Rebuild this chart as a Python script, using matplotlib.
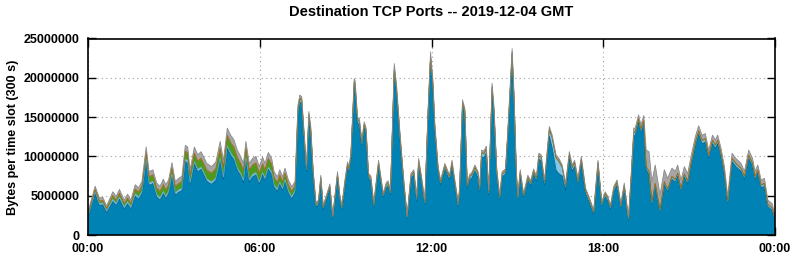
import numpy as np
import matplotlib
matplotlib.use('Agg')
import matplotlib.pyplot as plt

plt.rcParams['font.family'] = ['Liberation Sans', 'DejaVu Sans']
plt.rcParams['font.weight'] = 'bold'

# time slots (GMT) where the curve was read
times = [
    "00:00", "00:15", "00:24", "00:31", "00:39", "00:52", "00:59", "01:06",
    "01:16", "01:23", "01:30", "01:39", "01:46", "01:53", "02:02", "02:08",
    "02:16", "02:24", "02:31", "02:38", "02:43", "02:49", "02:56", "03:03",
    "03:10", "03:17", "03:24", "03:29", "03:34", "03:43", "03:50", "03:57",
    "04:02", "04:09", "04:19", "04:28", "04:37", "04:44", "04:52", "04:59",
    "05:06", "05:13", "05:20", "05:26", "05:31", "05:38", "05:45", "05:52",
    "05:59", "06:06", "06:11", "06:18", "06:25", "06:30", "06:37", "06:42",
    "06:48", "06:53", "07:00", "07:07", "07:14", "07:20", "07:24", "07:28",
    "07:38", "07:43", "07:47", "07:52", "07:58", "08:03", "08:08", "08:13",
    "08:22", "08:27", "08:33", "08:43", "08:48", "08:52", "08:59", "09:04",
    "09:07", "09:11", "09:18", "09:20", "09:25", "09:29", "09:34", "09:39",
    "09:43", "09:48", "09:53", "09:59", "10:09", "10:14", "10:19", "10:25",
    "10:29", "10:34", "10:42", "10:47", "10:54", "11:02", "11:09", "11:17",
    "11:23", "11:29", "11:33", "11:39", "11:46", "11:53", "11:58", "12:03",
    "12:07", "12:14", "12:19", "12:28", "12:35", "12:38", "12:43", "12:49",
    "12:56", "12:59", "13:05", "13:10", "13:15", "13:20", "13:25", "13:31",
    "13:38", "13:41", "13:45", "13:50", "13:55", "14:00", "14:07", "14:11",
    "14:17", "14:23", "14:28", "14:35", "14:40", "14:49", "14:53", "14:58",
    "15:01", "15:06", "15:13", "15:22", "15:28", "15:34", "15:40", "15:45",
    "15:50", "15:57", "16:07", "16:13", "16:21", "16:27", "16:34", "16:41",
    "16:49", "16:55", "17:00", "17:07", "17:14", "17:23", "17:30", "17:40",
    "17:49", "17:57", "18:04", "18:10", "18:15", "18:22", "18:29", "18:37",
    "18:44", "18:53", "18:59", "19:04", "19:07", "19:14", "19:19", "19:25",
    "19:30", "19:36", "19:42", "19:49", "19:59", "20:08", "20:15", "20:24",
    "20:31", "20:36", "20:43", "20:50", "20:57", "21:04", "21:13", "21:20",
    "21:27", "21:34", "21:41", "21:49", "21:55", "22:00", "22:07", "22:14",
    "22:21", "22:30", "22:38", "22:49", "22:56", "23:05", "23:13", "23:18",
    "23:24", "23:31", "23:38", "23:45", "23:54", "24:00",
]

# top of the stack, millions of bytes per slot
total = [
    3.0, 6.2, 4.7, 4.8, 3.7, 5.5, 4.9, 5.8,
    4.45, 5.2, 4.45, 6.4, 6.0, 6.8, 11.2, 8.05,
    8.3, 6.6, 6.2, 7.1, 6.4, 7.0, 9.2, 6.8,
    7.2, 7.5, 11.4, 11.2, 8.3, 11.2, 10.2, 10.6,
    10.0, 9.1, 8.7, 9.3, 11.9, 9.5, 13.6, 12.7,
    12.1, 10.8, 10.0, 9.1, 11.9, 9.1, 9.75, 10.0,
    8.7, 9.9, 9.1, 10.5, 9.75, 8.05, 7.4, 8.3,
    7.4, 8.5, 7.0, 6.15, 6.8, 16.5, 17.8, 17.6,
    8.7, 15.7, 13.8, 8.3, 4.1, 4.45, 7.6, 3.8,
    5.5, 6.5, 2.5, 8.05, 5.1, 3.8, 7.2, 9.3,
    8.7, 10.4, 19.9, 19.6, 15.0, 14.8, 12.1, 14.4,
    13.6, 7.85, 7.5, 4.1, 9.5, 7.4, 5.3, 6.65,
    6.9, 5.7, 21.8, 18.9, 13.0, 7.0, 2.5, 7.85,
    8.3, 4.9, 9.75, 7.5, 4.45, 16.3, 23.3, 19.7,
    14.2, 8.7, 7.0, 9.1, 8.05, 7.7, 9.5, 7.0,
    4.2, 6.15, 17.2, 16.1, 6.6, 7.7, 8.0, 8.9,
    8.0, 6.15, 10.8, 10.7, 11.3, 5.7, 19.3, 16.3,
    8.3, 5.1, 8.05, 8.4, 13.4, 23.7, 18.0, 8.05,
    5.1, 8.3, 5.3, 7.6, 6.9, 8.4, 7.5, 10.4,
    10.2, 7.0, 13.8, 12.7, 10.2, 9.75, 8.9, 6.6,
    10.6, 8.9, 9.5, 7.2, 10.0, 5.95, 4.9, 3.2,
    9.5, 4.25, 5.5, 4.9, 3.8, 6.15, 7.0, 4.0,
    6.6, 2.3, 8.3, 13.6, 13.6, 15.3, 14.0, 15.2,
    10.8, 10.6, 6.8, 8.9, 5.1, 8.3, 7.2, 8.5,
    8.1, 8.9, 7.0, 8.7, 7.8, 10.0, 12.5, 13.9,
    12.7, 12.9, 10.8, 12.7, 12.1, 12.7, 11.0, 8.7,
    4.9, 10.4, 9.75, 9.1, 8.1, 10.8, 9.75, 8.1,
    8.9, 7.0, 7.2, 4.45, 4.0, 2.5,
]

# thinner port bands on top of the big blue one (millions)
gray = [
    0.3, 0.35, 0.35, 0.35, 0.3, 0.45, 0.4, 0.45,
    0.4, 0.45, 0.4, 0.5, 0.5, 0.55, 0.65, 0.6,
    0.6, 0.6, 0.6, 0.65, 0.6, 0.6, 0.6, 0.6,
    0.6, 0.65, 0.7, 0.7, 0.7, 0.75, 0.75, 0.8,
    0.8, 0.8, 0.8, 0.8, 0.85, 0.85, 0.9, 0.9,
    0.9, 0.9, 0.85, 0.85, 0.8, 0.8, 0.8, 0.8,
    0.8, 0.8, 0.75, 0.75, 0.7, 0.7, 0.65, 0.65,
    0.6, 0.6, 0.6, 0.55, 0.5, 0.4, 0.35, 0.3,
    0.25, 0.3, 0.3, 0.25, 0.2, 0.2, 0.25, 0.2,
    0.2, 0.25, 0.15, 0.25, 0.2, 0.2, 0.25, 0.25,
    0.25, 0.25, 0.35, 0.35, 0.3, 0.3, 0.3, 0.3,
    0.3, 0.25, 0.25, 0.2, 0.25, 0.25, 0.2, 0.25,
    0.25, 0.2, 0.35, 0.35, 0.3, 0.25, 0.15, 0.25,
    0.25, 0.2, 0.25, 0.25, 0.2, 0.3, 0.4, 0.35,
    0.3, 0.25, 0.25, 0.25, 0.25, 0.25, 0.25, 0.25,
    0.2, 0.25, 0.3, 0.3, 0.25, 0.25, 0.25, 0.25,
    0.25, 0.25, 0.3, 0.3, 0.3, 0.2, 0.35, 0.3,
    0.25, 0.2, 0.25, 0.25, 0.3, 0.4, 0.35, 0.25,
    0.2, 0.25, 0.2, 0.25, 0.25, 0.25, 0.25, 0.3,
    0.3, 0.25, 0.3, 0.3, 0.3, 0.3, 0.25, 0.25,
    0.3, 0.25, 0.25, 0.25, 0.3, 0.2, 0.2, 0.2,
    0.25, 0.2, 0.2, 0.2, 0.2, 0.25, 0.25, 0.2,
    0.25, 0.2, 0.4, 0.5, 0.5, 0.5, 0.5, 0.6,
    2.0, 2.5, 2.5, 2.3, 1.8, 1.5, 1.3, 1.0,
    1.0, 1.0, 1.0, 0.9, 0.9, 0.8, 0.7, 0.6,
    0.6, 0.6, 0.6, 0.6, 0.6, 0.6, 0.6, 0.6,
    0.5, 0.6, 0.6, 0.6, 0.6, 0.6, 0.6, 0.6,
    0.6, 0.6, 0.6, 0.5, 0.5, 0.3,
]

orange = [
    0.08, 0.1, 0.1, 0.1, 0.08, 0.1, 0.1, 0.1,
    0.1, 0.1, 0.1, 0.1, 0.1, 0.1, 0.1, 0.1,
    0.1, 0.1, 0.1, 0.1, 0.1, 0.1, 0.1, 0.1,
    0.1, 0.1, 0.1, 0.1, 0.1, 0.1, 0.1, 0.1,
    0.1, 0.1, 0.1, 0.1, 0.1, 0.1, 0.1, 0.1,
    0.1, 0.1, 0.1, 0.1, 0.1, 0.1, 0.1, 0.1,
    0.1, 0.1, 0.1, 0.1, 0.1, 0.1, 0.1, 0.1,
    0.1, 0.1, 0.1, 0.1, 0.1, 0.08, 0.08, 0.06,
    0.05, 0.06, 0.06, 0.05, 0.05, 0.05, 0.05, 0.05,
    0.05, 0.05, 0.03, 0.05, 0.05, 0.05, 0.05, 0.05,
    0.05, 0.05, 0.08, 0.08, 0.06, 0.06, 0.05, 0.06,
    0.06, 0.05, 0.05, 0.05, 0.05, 0.05, 0.05, 0.05,
    0.05, 0.05, 0.08, 0.08, 0.05, 0.05, 0.03, 0.05,
    0.05, 0.05, 0.05, 0.05, 0.05, 0.06, 0.08, 0.08,
    0.05, 0.05, 0.05, 0.05, 0.05, 0.05, 0.05, 0.05,
    0.05, 0.05, 0.06, 0.06, 0.05, 0.05, 0.05, 0.05,
    0.05, 0.05, 0.05, 0.05, 0.05, 0.05, 0.08, 0.08,
    0.05, 0.05, 0.05, 0.05, 0.05, 0.08, 0.08, 0.05,
    0.05, 0.05, 0.05, 0.05, 0.05, 0.05, 0.05, 0.05,
    0.05, 0.05, 0.05, 0.05, 0.05, 0.05, 0.05, 0.05,
    0.05, 0.05, 0.05, 0.05, 0.05, 0.05, 0.05, 0.05,
    0.05, 0.05, 0.05, 0.05, 0.05, 0.05, 0.05, 0.05,
    0.05, 0.03, 0.05, 0.06, 0.06, 0.06, 0.06, 0.06,
    0.06, 0.06, 0.05, 0.05, 0.05, 0.05, 0.05, 0.05,
    0.05, 0.05, 0.05, 0.05, 0.05, 0.05, 0.06, 0.08,
    0.08, 0.08, 0.06, 0.08, 0.08, 0.08, 0.06, 0.05,
    0.05, 0.06, 0.06, 0.05, 0.05, 0.06, 0.05, 0.05,
    0.05, 0.05, 0.05, 0.05, 0.05, 0.03,
]

green = [
    0.2, 0.25, 0.25, 0.25, 0.25, 0.4, 0.35, 0.4,
    0.35, 0.4, 0.35, 0.55, 0.55, 0.6, 0.8, 0.75,
    0.75, 0.75, 0.75, 0.8, 0.75, 0.75, 0.75, 0.75,
    0.75, 0.8, 0.95, 0.95, 0.85, 1.0, 1.0, 1.05,
    1.05, 1.05, 1.05, 1.15, 1.2, 1.2, 1.25, 1.25,
    1.25, 1.25, 1.2, 1.2, 1.15, 1.15, 1.15, 1.15,
    1.05, 1.05, 1.0, 1.0, 0.95, 0.85, 0.8, 0.8,
    0.75, 0.75, 0.65, 0.6, 0.55, 0.35, 0.25, 0.25,
    0.1, 0.15, 0.15, 0.1, 0.1, 0.1, 0.1, 0.1,
    0.1, 0.1, 0.05, 0.1, 0.1, 0.1, 0.1, 0.1,
    0.1, 0.1, 0.15, 0.15, 0.1, 0.1, 0.1, 0.1,
    0.1, 0.1, 0.1, 0.1, 0.1, 0.1, 0.1, 0.1,
    0.1, 0.1, 0.15, 0.15, 0.1, 0.1, 0.05, 0.1,
    0.1, 0.1, 0.1, 0.1, 0.1, 0.1, 0.15, 0.15,
    0.1, 0.1, 0.1, 0.1, 0.1, 0.1, 0.1, 0.1,
    0.1, 0.1, 0.1, 0.1, 0.1, 0.1, 0.1, 0.1,
    0.1, 0.1, 0.1, 0.1, 0.1, 0.1, 0.1, 0.1,
    0.1, 0.1, 0.1, 0.1, 0.1, 0.15, 0.1, 0.1,
    0.1, 0.1, 0.1, 0.1, 0.1, 0.1, 0.1, 0.1,
    0.1, 0.1, 0.1, 0.1, 0.1, 0.1, 0.1, 0.1,
    0.1, 0.1, 0.1, 0.1, 0.1, 0.1, 0.1, 0.1,
    0.1, 0.1, 0.1, 0.1, 0.1, 0.1, 0.1, 0.1,
    0.1, 0.05, 0.1, 0.1, 0.1, 0.1, 0.1, 0.1,
    0.1, 0.1, 0.1, 0.1, 0.1, 0.1, 0.1, 0.1,
    0.1, 0.1, 0.1, 0.1, 0.1, 0.1, 0.1, 0.1,
    0.1, 0.1, 0.1, 0.1, 0.1, 0.1, 0.1, 0.1,
    0.1, 0.1, 0.1, 0.1, 0.1, 0.1, 0.1, 0.1,
    0.1, 0.1, 0.1, 0.1, 0.1, 0.1,
]

lblue = [
    0.2, 0.25, 0.25, 0.25, 0.25, 0.3, 0.3, 0.3,
    0.3, 0.3, 0.3, 0.3, 0.3, 0.3, 0.3, 0.3,
    0.3, 0.3, 0.3, 0.3, 0.3, 0.3, 0.3, 0.3,
    0.3, 0.3, 0.3, 0.3, 0.3, 0.3, 0.3, 0.3,
    0.3, 0.3, 0.3, 0.3, 0.3, 0.3, 0.3, 0.3,
    0.3, 0.3, 0.3, 0.3, 0.3, 0.3, 0.3, 0.3,
    0.3, 0.3, 0.3, 0.3, 0.3, 0.3, 0.3, 0.3,
    0.3, 0.3, 0.3, 0.3, 0.3, 0.3, 0.25, 0.25,
    0.25, 0.3, 0.3, 0.25, 0.2, 0.2, 0.25, 0.2,
    0.2, 0.25, 0.15, 0.25, 0.2, 0.2, 0.25, 0.25,
    0.25, 0.25, 0.3, 0.3, 0.3, 0.3, 0.25, 0.3,
    0.3, 0.25, 0.25, 0.2, 0.25, 0.25, 0.2, 0.25,
    0.25, 0.2, 0.3, 0.3, 0.25, 0.25, 0.15, 0.25,
    0.25, 0.2, 0.25, 0.25, 0.2, 0.3, 0.3, 0.3,
    0.3, 0.25, 0.25, 0.25, 0.25, 0.25, 0.25, 0.25,
    0.2, 0.25, 0.3, 0.3, 0.25, 0.25, 0.3, 0.35,
    0.35, 0.3, 0.4, 0.4, 0.4, 0.25, 0.3, 0.3,
    0.25, 0.2, 0.25, 0.25, 0.3, 0.3, 0.3, 0.25,
    0.2, 0.25, 0.2, 0.25, 0.25, 0.25, 0.25, 0.3,
    0.3, 0.25, 0.8, 1.2, 1.5, 1.5, 1.0, 0.5,
    0.4, 0.4, 0.4, 0.35, 0.35, 0.35, 0.3, 0.25,
    0.3, 0.2, 0.25, 0.25, 0.2, 0.25, 0.25, 0.2,
    0.25, 0.15, 0.25, 0.3, 0.3, 0.3, 0.3, 0.3,
    0.3, 0.3, 0.25, 0.25, 0.2, 0.25, 0.25, 0.25,
    0.25, 0.25, 0.25, 0.25, 0.25, 0.25, 0.3, 0.3,
    0.3, 0.3, 0.3, 0.3, 0.3, 0.3, 0.3, 0.25,
    0.2, 0.3, 0.3, 0.25, 0.25, 0.3, 0.25, 0.25,
    0.25, 0.25, 0.25, 0.2, 0.2, 0.15,
]

tick_hours = [0, 6, 12, 18, 24]
tick_labels = ["00:00", "06:00", "12:00", "18:00", "00:00"]


def to_hours(s):
    h, m = s.split(':')
    return int(h) + int(m) / 60.0


def stackLayers():
    n = len(times)
    for arr in (total, gray, orange, green, lblue):
        assert len(arr) == n, (len(arr), n)
    x = np.array([to_hours(t) for t in times])
    top = np.array(total) * 1e6
    l5 = top - np.array(gray) * 1e6
    l4 = l5 - np.array(orange) * 1e6
    l3 = l4 - np.array(green) * 1e6
    l2 = l3 - np.array(lblue) * 1e6
    return x, [l2, l3, l4, l5, top]


def plotThem(x, levels):
    fig = plt.figure(figsize=(7.95, 2.6), dpi=100)
    ax = fig.add_axes([88 / 795, 25 / 260, 687 / 795, 196.5 / 260])

    fills = ['#0082b4', '#86c6e6', '#4e9a1c', '#c8641a', '#a6a6a6']
    edges = ['#00628a', '#5aa8cc', '#6a8a1a', '#b05a18', '#8a8a8a']
    widths = [0.6, 0.5, 0.5, 0.4, 0.6]
    lower = np.zeros_like(x)
    for lev, fc, ec, lw in zip(levels, fills, edges, widths):
        ax.fill_between(x, lower, lev, facecolor=fc, edgecolor='none', zorder=2)
        ax.plot(x, lev, color=ec, lw=lw, zorder=3)
        lower = lev

    ax.set_xlim(0, 24)
    ax.set_ylim(0, 25e6)
    ax.set_xticks(tick_hours)
    ax.set_xticklabels(tick_labels)
    yt = [0, 5000000, 10000000, 15000000, 20000000, 25000000]
    ax.set_yticks(yt)
    ax.set_yticklabels([str(v) for v in yt])
    ax.tick_params(direction='in', length=6, width=1, top=True, right=True,
                   labelsize=9, pad=6)
    for lab in ax.get_xticklabels() + ax.get_yticklabels():
        lab.set_fontweight('bold')
    ax.grid(True, color='#a0a0a0', linestyle=(0, (1, 3)), linewidth=0.8)
    ax.set_axisbelow(True)
    for sp in ax.spines.values():
        sp.set_linewidth(1.2)
        sp.set_zorder(5)

    fig.text(431.5 / 795, 1 - 12 / 260, 'Destination TCP Ports -- 2019-12-04 GMT',
             ha='center', va='center', fontsize=10.5, fontweight='bold')
    fig.text(13 / 795, 1 - 137 / 260, 'Bytes per time slot (300 s)',
             ha='center', va='center', rotation=90, fontsize=9, fontweight='bold')
    fig.savefig('out.png', dpi=100)


def main():
    x, levels = stackLayers()
    plotThem(x, levels)


if __name__ == '__main__':
    main()
